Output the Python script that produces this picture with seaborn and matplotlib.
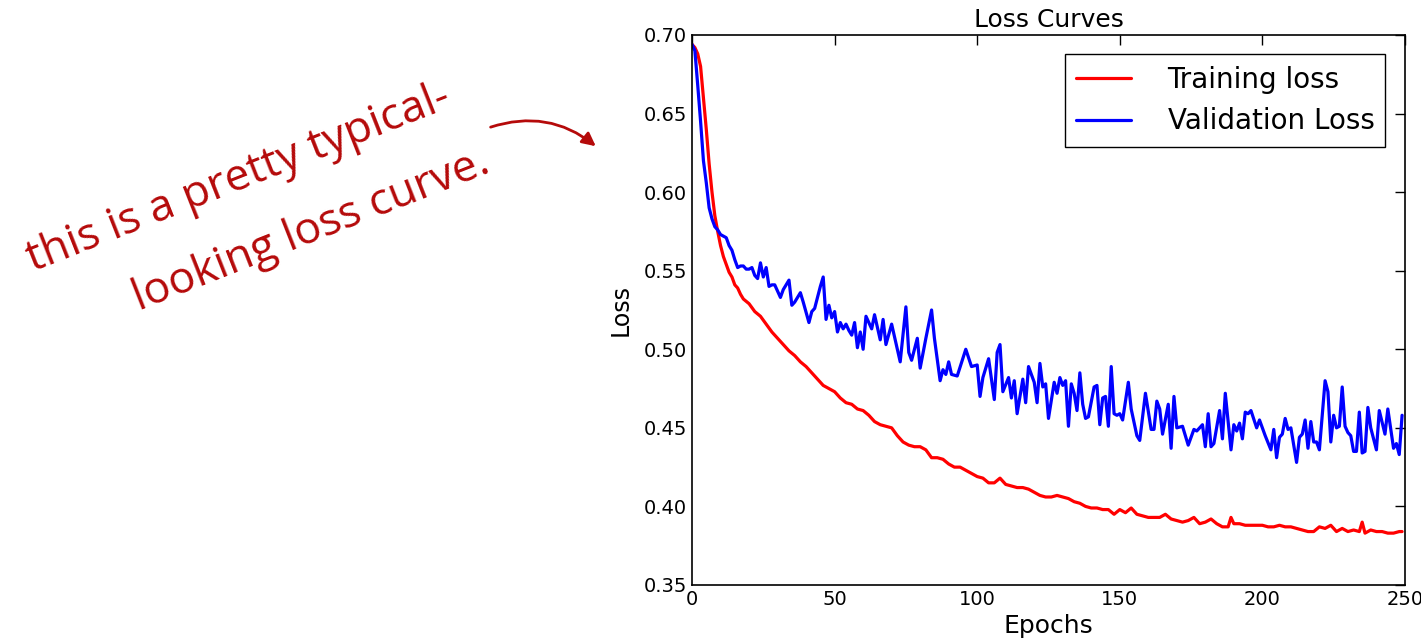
import matplotlib
matplotlib.use("Agg")
import matplotlib.pyplot as plt
import seaborn as sns
from matplotlib.patches import FancyArrowPatch

# training loss
train_epochs = [0, 1, 2, 3, 4, 5, 6, 7, 8, 9, 10, 11, 12, 13, 14, 15, 16, 17, 18, 20,
                22, 24, 26, 28, 30, 32, 34, 36, 38, 40, 42, 44, 46, 48, 50, 52, 54, 56, 58, 60,
                62, 64, 66, 68, 70, 72, 74, 76, 78, 80, 82, 84, 86, 88, 90, 92, 94, 96, 98, 100,
                102, 104, 106, 108, 110, 112, 114, 116, 118, 120, 122, 124, 126, 128, 130, 132, 134, 136, 138, 140,
                142, 144, 146, 148, 150, 152, 154, 156, 158, 160, 162, 164, 166, 168, 170, 172, 174, 176, 178, 180,
                182, 184, 186, 188, 189, 190, 192, 194, 196, 198, 200, 202, 204, 206, 208, 210, 212, 214, 216, 218,
                220, 222, 224, 226, 228, 230, 232, 234, 235, 236, 238, 240, 242, 244, 246, 248, 249]
train_loss = [0.694, 0.692, 0.688, 0.680, 0.660, 0.640, 0.618, 0.600, 0.585, 0.575, 0.566, 0.559, 0.554, 0.549, 0.546, 0.541, 0.539, 0.535, 0.532, 0.529,
              0.524, 0.521, 0.516, 0.511, 0.507, 0.503, 0.499, 0.496, 0.492, 0.489, 0.485, 0.481, 0.477, 0.475, 0.473, 0.469, 0.466, 0.465, 0.462, 0.461,
              0.458, 0.454, 0.452, 0.451, 0.450, 0.445, 0.441, 0.439, 0.438, 0.438, 0.436, 0.431, 0.431, 0.430, 0.427, 0.425, 0.425, 0.423, 0.421, 0.419,
              0.418, 0.415, 0.415, 0.418, 0.414, 0.413, 0.412, 0.412, 0.411, 0.409, 0.407, 0.406, 0.406, 0.407, 0.406, 0.405, 0.403, 0.402, 0.400, 0.399,
              0.399, 0.398, 0.398, 0.395, 0.398, 0.396, 0.399, 0.395, 0.394, 0.393, 0.393, 0.393, 0.395, 0.392, 0.391, 0.390, 0.391, 0.393, 0.389, 0.390,
              0.392, 0.389, 0.387, 0.387, 0.393, 0.389, 0.389, 0.388, 0.388, 0.388, 0.388, 0.387, 0.387, 0.388, 0.387, 0.387, 0.386, 0.385, 0.384, 0.384,
              0.387, 0.386, 0.388, 0.384, 0.386, 0.384, 0.385, 0.384, 0.390, 0.383, 0.385, 0.384, 0.384, 0.383, 0.383, 0.384, 0.384]

# validation loss
val_epochs = [0, 1, 2, 3, 4, 5, 6, 7, 8, 9, 10, 11, 12, 13, 14, 15, 16, 17, 18, 19,
              20, 21, 22, 23, 24, 25, 26, 27, 28, 29, 30, 31, 32, 34, 35, 36, 38, 39, 41, 42,
              43, 44, 45, 46, 47, 48, 49, 50, 51, 52, 53, 54, 55, 56, 57, 58, 59, 60, 61, 63,
              64, 66, 67, 68, 70, 73, 75, 76, 77, 79, 80, 82, 84, 85, 87, 88, 89, 90, 91, 93,
              96, 98, 100, 101, 102, 104, 106, 107, 108, 109, 111, 112, 113, 114, 116, 117, 118, 120, 121, 122,
              123, 124, 125, 127, 128, 129, 130, 131, 132, 133, 134, 135, 136, 137, 138, 139, 141, 142, 143, 144,
              145, 146, 147, 148, 149, 150, 151, 153, 154, 156, 157, 159, 161, 162, 163, 164, 165, 167, 168, 169,
              170, 172, 174, 176, 177, 179, 180, 181, 182, 183, 185, 186, 187, 189, 190, 191, 192, 193, 194, 195,
              196, 198, 199, 201, 203, 204, 205, 206, 207, 208, 209, 210, 212, 213, 214, 215, 216, 217, 218, 219,
              220, 222, 223, 224, 225, 226, 227, 228, 229, 230, 231, 232, 233, 234, 235, 236, 237, 238, 240, 241,
              243, 244, 246, 247, 248, 249]
val_loss = [0.694, 0.690, 0.668, 0.645, 0.620, 0.606, 0.590, 0.583, 0.578, 0.576, 0.573, 0.572, 0.571, 0.566, 0.563, 0.557, 0.552, 0.553, 0.553, 0.551,
            0.551, 0.552, 0.547, 0.545, 0.555, 0.546, 0.552, 0.540, 0.541, 0.541, 0.537, 0.533, 0.538, 0.544, 0.528, 0.530, 0.536, 0.530, 0.517, 0.524,
            0.526, 0.533, 0.540, 0.546, 0.519, 0.528, 0.520, 0.524, 0.511, 0.517, 0.513, 0.516, 0.512, 0.509, 0.517, 0.501, 0.511, 0.500, 0.521, 0.513,
            0.522, 0.506, 0.519, 0.503, 0.516, 0.492, 0.527, 0.498, 0.493, 0.507, 0.488, 0.507, 0.525, 0.507, 0.480, 0.487, 0.484, 0.492, 0.484, 0.483,
            0.500, 0.489, 0.490, 0.470, 0.482, 0.494, 0.468, 0.498, 0.503, 0.473, 0.482, 0.469, 0.480, 0.459, 0.481, 0.466, 0.489, 0.479, 0.466, 0.491,
            0.476, 0.478, 0.456, 0.479, 0.472, 0.482, 0.477, 0.480, 0.451, 0.478, 0.472, 0.461, 0.485, 0.465, 0.456, 0.457, 0.476, 0.477, 0.452, 0.469,
            0.470, 0.451, 0.489, 0.459, 0.458, 0.459, 0.455, 0.479, 0.462, 0.445, 0.442, 0.472, 0.449, 0.449, 0.467, 0.462, 0.446, 0.465, 0.437, 0.470,
            0.450, 0.451, 0.439, 0.449, 0.448, 0.452, 0.438, 0.459, 0.438, 0.440, 0.461, 0.443, 0.472, 0.436, 0.452, 0.448, 0.453, 0.443, 0.460, 0.459,
            0.461, 0.450, 0.455, 0.445, 0.436, 0.449, 0.431, 0.444, 0.446, 0.456, 0.449, 0.450, 0.428, 0.444, 0.446, 0.455, 0.437, 0.454, 0.441, 0.441,
            0.436, 0.480, 0.473, 0.441, 0.458, 0.450, 0.451, 0.476, 0.451, 0.447, 0.445, 0.435, 0.435, 0.460, 0.434, 0.435, 0.463, 0.450, 0.436, 0.461,
            0.446, 0.462, 0.437, 0.440, 0.433, 0.458]

x_ticks = [0, 50, 100, 150, 200, 250]
y_ticks = [0.35, 0.40, 0.45, 0.50, 0.55, 0.60, 0.65, 0.70]

note_line1 = "this is a pretty typical-"
note_line2 = "looking loss curve."
note_color = "#b50a0a"

sns.set_style("white")
plt.rcParams["font.family"] = ["DejaVu Sans"]
plt.rcParams["text.color"] = "black"
plt.rcParams["axes.labelcolor"] = "black"

fig = plt.figure(figsize=(14.21, 6.42), dpi=100)
ax = fig.add_axes([0.487, 0.0888, 0.5017, 0.8567])

sns.lineplot(x=train_epochs, y=train_loss, ax=ax, color="#ff0000", linewidth=2.3, label="Training loss")
sns.lineplot(x=val_epochs, y=val_loss, ax=ax, color="#0000ff", linewidth=2.3, label="Validation Loss")

ax.set_xlim(0, 250)
ax.set_ylim(0.35, 0.70)
ax.set_xticks(x_ticks)
ax.set_yticks(y_ticks)
ax.set_yticklabels([f"{v:.2f}" for v in y_ticks])
ax.tick_params(direction="in", top=True, right=True, length=7, width=1, labelsize=14, colors="black")
for side in ax.spines.values():
    side.set_color("black")
    side.set_linewidth(1.2)

ax.set_title("Loss Curves", fontsize=18, pad=6, color="black")
ax.set_xlabel("Epochs", fontsize=18, labelpad=4)
ax.set_ylabel("Loss", fontsize=17, labelpad=8)

leg = ax.legend(loc="upper right", fontsize=20, frameon=True, fancybox=False,
                handlelength=2.0, handletextpad=1.3, borderpad=0.4, labelspacing=0.5,
                borderaxespad=0.7)
leg.get_frame().set_edgecolor("black")
leg.get_frame().set_linewidth(1.0)
leg.get_frame().set_alpha(1)
for t in leg.get_texts():
    t.set_color("black")

# handwritten-style note on the left
fig.text(0.168, 0.722, note_line1, fontsize=32, color=note_color, rotation=21.5,
         ha="center", va="center", family=["Open Sans", "DejaVu Sans"])
fig.text(0.219, 0.641, note_line2, fontsize=32, color=note_color, rotation=21.5,
         ha="center", va="center", family=["Open Sans", "DejaVu Sans"])

arrow = FancyArrowPatch((0.3434, 0.8006), (0.4208, 0.7695), transform=fig.transFigure,
                        connectionstyle="arc3,rad=-0.28", arrowstyle="-|>,head_length=8,head_width=4",
                        color=note_color, linewidth=2)
fig.patches.append(arrow)

fig.savefig("out.png", dpi=100)
